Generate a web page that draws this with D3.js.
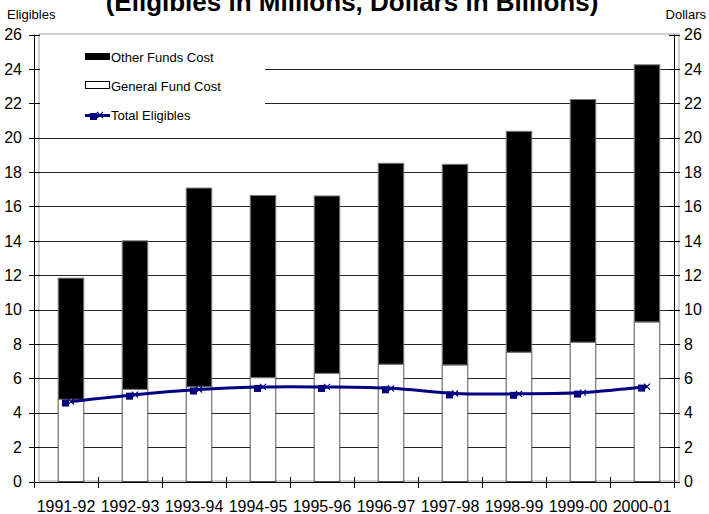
<!DOCTYPE html>
<html>
<head>
<meta charset="utf-8">
<script src="https://cdn.jsdelivr.net/npm/d3@7"></script>
<style>
  html, body { margin: 0; padding: 0; background: #fff; }
  svg { display: block; font-family: "Liberation Sans", Arial, sans-serif; }
</style>
</head>
<body>
<svg id="chart" width="709" height="514"></svg>
<script>
// Fiscal years shown on the category axis
const years = ["1991-92", "1992-93", "1993-94", "1994-95", "1995-96",
               "1996-97", "1997-98", "1998-99", "1999-00", "2000-01"];
// Cost components, dollars in billions (stacked)
const generalFund = [4.78, 5.36, 5.51, 6.04, 6.29, 6.82, 6.78, 7.52, 8.10, 9.28];
const otherFunds  = [7.05, 8.64, 11.56, 10.60, 10.32, 11.69, 11.67, 12.85, 14.12, 14.96];
// Total eligibles, in millions
const eligibles   = [4.65, 5.05, 5.35, 5.50, 5.50, 5.42, 5.12, 5.10, 5.17, 5.52];
// Value-axis ticks (both sides share the same 0–26 range)
const yTicks = [0, 2, 4, 6, 8, 10, 12, 14, 16, 18, 20, 22, 24, 26];

const svg = d3.select("#chart");
const navy = "#000080";

// Axis plane and the slightly offset back wall where the series sit
const axisX = d3.scaleBand().domain(years).range([34, 674]);
const wallX = d3.scaleBand().domain(years).range([39, 679]).paddingInner(0.6).paddingOuter(0.3);
const y = d3.scaleLinear().domain([0, 26]).range([481.5, 34.5]);

// Back wall frame
svg.append("rect")
  .attr("x", 39).attr("y", 34)
  .attr("width", 640).attr("height", 447)
  .attr("fill", "#fff").attr("stroke", "#a0a0a0").attr("stroke-width", 1);

// Horizontal gridlines
svg.append("g").selectAll("line")
  .data(yTicks.filter(d => d > 0 && d < 26))
  .join("line")
  .attr("x1", 39).attr("x2", 679)
  .attr("y1", d => Math.round(y(d)) + 0.5).attr("y2", d => Math.round(y(d)) + 0.5)
  .attr("stroke", "#222").attr("stroke-width", 1);

// Legend background panel (hides gridlines behind the keys)
svg.append("rect")
  .attr("x", 40).attr("y", 40).attr("width", 225).attr("height", 86)
  .attr("fill", "#fff");

// Stacked columns
const bars = svg.append("g");
years.forEach((yr, i) => {
  const x0 = wallX(yr), w = wallX.bandwidth();
  const gTop = y(generalFund[i]);
  const tTop = y(generalFund[i] + otherFunds[i]);
  bars.append("rect")
    .attr("x", x0).attr("y", gTop)
    .attr("width", w).attr("height", y(0) - gTop)
    .attr("fill", "#fff").attr("stroke", "#555").attr("stroke-width", 1);
  bars.append("rect")
    .attr("x", x0).attr("y", tTop)
    .attr("width", w).attr("height", gTop - tTop)
    .attr("fill", "#000").attr("stroke", "#808080").attr("stroke-width", 1);
});

// Total eligibles line
const pts = eligibles.map((v, i) => [wallX(years[i]) + wallX.bandwidth() / 2, y(v)]);
svg.append("path")
  .attr("d", d3.line().curve(d3.curveCatmullRom.alpha(0.5))(pts))
  .attr("fill", "none").attr("stroke", navy).attr("stroke-width", 3);

const markers = svg.append("g");
pts.forEach(([px, py]) => {
  markers.append("rect")
    .attr("x", px - 5.5 - 3.5).attr("y", py + 1.5 - 3.5)
    .attr("width", 7).attr("height", 7).attr("fill", navy);
  markers.append("path")
    .attr("d", `M${px - 3},${py - 3}L${px + 3},${py + 3}M${px - 3},${py + 3}L${px + 3},${py - 3}`)
    .attr("stroke", navy).attr("stroke-width", 1.2).attr("fill", "none");
});

// Left value axis
const axisStroke = "#000";
svg.append("line").attr("x1", 34.5).attr("x2", 34.5).attr("y1", y(26)).attr("y2", 482)
  .attr("stroke", axisStroke);
svg.append("g").selectAll("line").data(yTicks).join("line")
  .attr("x1", 29).attr("x2", 40)
  .attr("y1", d => Math.round(y(d)) + 0.5).attr("y2", d => Math.round(y(d)) + 0.5)
  .attr("stroke", axisStroke);
svg.append("g").selectAll("text").data(yTicks).join("text")
  .attr("x", 22).attr("y", d => y(d)).attr("dy", "0.36em")
  .attr("text-anchor", "end").attr("font-size", 16).attr("fill", "#000")
  .text(d => d);

// Right value axis
svg.append("line").attr("x1", 674.5).attr("x2", 674.5).attr("y1", y(26)).attr("y2", 482)
  .attr("stroke", axisStroke);
svg.append("g").selectAll("line").data(yTicks).join("line")
  .attr("x1", 669).attr("x2", 680)
  .attr("y1", d => Math.round(y(d)) + 0.5).attr("y2", d => Math.round(y(d)) + 0.5)
  .attr("stroke", axisStroke);
svg.append("g").selectAll("text").data(yTicks).join("text")
  .attr("x", 684).attr("y", d => y(d)).attr("dy", "0.36em")
  .attr("text-anchor", "start").attr("font-size", 16).attr("fill", "#000")
  .text(d => d);

// Category axis
svg.append("line").attr("x1", 34).attr("x2", 674).attr("y1", 482.5).attr("y2", 482.5)
  .attr("stroke", axisStroke);
const bounds = years.map(d => axisX(d)).concat([axisX.range()[1]]);
svg.append("g").selectAll("line").data(bounds).join("line")
  .attr("x1", d => Math.round(d) + 0.5).attr("x2", d => Math.round(d) + 0.5)
  .attr("y1", 477).attr("y2", 488)
  .attr("stroke", axisStroke);
svg.append("g").selectAll("text").data(years).join("text")
  .attr("x", d => axisX(d) + axisX.bandwidth() / 2).attr("y", 511.5)
  .attr("text-anchor", "middle").attr("font-size", 16).attr("fill", "#000")
  .text(d => d);

// Axis captions and title
svg.append("text").attr("x", 7).attr("y", 19).attr("font-size", 13).text("Eligibles");
svg.append("text").attr("x", 706).attr("y", 19).attr("text-anchor", "end")
  .attr("font-size", 13).text("Dollars");
svg.append("text").attr("x", 352).attr("y", 11).attr("text-anchor", "middle")
  .attr("font-size", 26).attr("font-weight", "bold")
  .text("(Eligibles in Millions, Dollars in Billions)");

// Legend
const lg = svg.append("g").attr("font-size", 13).attr("fill", "#000");
lg.append("rect").attr("x", 85).attr("y", 53).attr("width", 25).attr("height", 7).attr("fill", "#000");
lg.append("text").attr("x", 111).attr("y", 61.5).text("Other Funds Cost");
lg.append("rect").attr("x", 85.5).attr("y", 81.5).attr("width", 24).attr("height", 7)
  .attr("fill", "#fff").attr("stroke", "#000");
lg.append("text").attr("x", 111).attr("y", 90.5).text("General Fund Cost");
lg.append("line").attr("x1", 85).attr("x2", 110).attr("y1", 115.5).attr("y2", 115.5)
  .attr("stroke", navy).attr("stroke-width", 3);
lg.append("rect").attr("x", 90).attr("y", 113).attr("width", 7).attr("height", 7).attr("fill", navy);
lg.append("path").attr("d", "M97,112L103,118M97,118L103,112")
  .attr("stroke", navy).attr("stroke-width", 1.2);
lg.append("text").attr("x", 111).attr("y", 120).text("Total Eligibles");
</script>
</body>
</html>
